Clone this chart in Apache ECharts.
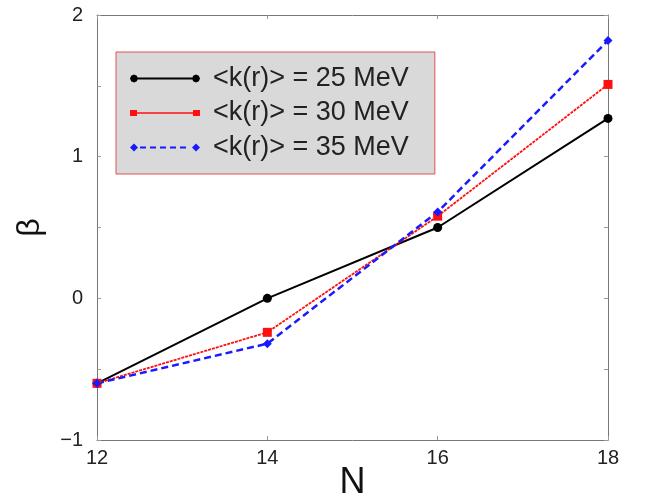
<!DOCTYPE html>
<html>
<head>
<meta charset="utf-8">
<script src="https://cdn.jsdelivr.net/npm/echarts@6/dist/echarts.min.js"></script>
<style>
html,body{margin:0;padding:0;background:#fff;}
#chart{width:645px;height:497px;}
</style>
</head>
<body>
<div id="chart"></div>
<script>
const nValues = [12, 14, 16, 18];
const seriesNames = ['<k(r)> = 25 MeV', '<k(r)> = 30 MeV', '<k(r)> = 35 MeV'];
const beta25 = [-0.60, 0.00, 0.50, 1.27];
const beta30 = [-0.60, -0.24, 0.58, 1.51];
const beta35 = [-0.60, -0.32, 0.61, 1.82];
const xTicks = [12, 14, 16, 18];
const yTicks = [-1, 0, 1, 2];

const pairs = v => nValues.map((n, i) => [n, v[i]]);
const FONT = '"Liberation Sans", Arial, Helvetica, sans-serif';

const iconBlack = 'path://M8,5L6.83,7.83L4,9L1.17,7.83L0,5L1.17,2.17L4,1L6.83,2.17Z M70,5L68.83,7.83L66,9L63.17,7.83L62,5L63.17,2.17L66,1L68.83,2.17Z M4,4L66,4L66,6L4,6Z';
const iconRed = 'path://M0,2h7v6h-7Z M63,2h7v6h-7Z M4,4.2L66,4.2L66,5.8L4,5.8Z';
const iconBlue = 'path://M0,5L4,1L8,5L4,9Z M62,5L66,1L70,5L66,9Z M10,4h6v2h-6Z M20,4h6v2h-6Z M30,4h6v2h-6Z M40,4h6v2h-6Z M50,4h6v2h-6Z';

const chart = echarts.init(document.getElementById('chart'));
const axisLine = {show: true, onZero: false, lineStyle: {color: '#777', width: 1}};
const tickStyle = {show: true, inside: true, length: 4, lineStyle: {color: '#999'}};
chart.setOption({
  animation: false,
  backgroundColor: '#fff',
  grid: {left: 97, right: 37, top: 15, bottom: 57, outerBoundsMode: 'none', containLabel: false},
  legend: {
    orient: 'vertical',
    left: 116, top: 52,
    backgroundColor: '#d9d9d9',
    borderColor: '#e05050',
    borderWidth: 1,
    borderRadius: 0,
    padding: [13, 26, 13, 14],
    itemWidth: 70, itemHeight: 10,
    itemGap: 7.5,
    itemStyle: {borderWidth: 0},
    lineStyle: {width: 0},
    textStyle: {fontFamily: FONT, fontSize: 27, color: '#222', lineHeight: 27, padding: [0, 0, 0, 8]},
    data: [
      {name: seriesNames[0], icon: iconBlack, itemStyle: {color: '#000', borderWidth: 0}},
      {name: seriesNames[1], icon: iconRed, itemStyle: {color: '#ff1010', borderWidth: 0}},
      {name: seriesNames[2], icon: iconBlue, itemStyle: {color: '#1a1aff', borderWidth: 0}}
    ]
  },
  xAxis: [{
    type: 'value', min: xTicks[0], max: xTicks[xTicks.length - 1], interval: 2,
    name: 'N', nameLocation: 'middle', nameGap: 25, nameMoveOverlap: false,
    nameTextStyle: {fontFamily: FONT, fontSize: 36, color: '#111', verticalAlign: 'top', lineHeight: 36},
    axisLine: axisLine, axisTick: tickStyle,
    axisLabel: {fontFamily: FONT, fontSize: 20, color: '#222', margin: 8},
    splitLine: {show: false}
  }, {
    type: 'value', position: 'top', min: xTicks[0], max: xTicks[xTicks.length - 1], interval: 2,
    axisLine: axisLine, axisTick: tickStyle, axisLabel: {show: false}, splitLine: {show: false}
  }],
  yAxis: [{
    type: 'value', min: yTicks[0], max: yTicks[yTicks.length - 1], interval: 1,
    name: 'β', nameLocation: 'middle', nameGap: 51, nameRotate: 90, nameMoveOverlap: false,
    nameTextStyle: {fontFamily: FONT, fontSize: 32, color: '#111'},
    axisLine: axisLine, axisTick: tickStyle,
    minorTick: {show: true, splitNumber: 2, length: 4, lineStyle: {color: '#999'}},
    axisLabel: {fontFamily: FONT, fontSize: 20, color: '#222', margin: 14,
      formatter: v => String(v).replace('-', '\u2212')},
    splitLine: {show: false}
  }, {
    type: 'value', position: 'right', min: yTicks[0], max: yTicks[yTicks.length - 1], interval: 1,
    axisLine: axisLine, axisTick: tickStyle,
    minorTick: {show: true, splitNumber: 2, length: 4, lineStyle: {color: '#999'}},
    axisLabel: {show: false}, splitLine: {show: false}
  }],
  series: [
    {name: seriesNames[0], type: 'line', data: pairs(beta25), symbol: 'circle', symbolSize: 9,
      lineStyle: {color: '#000', width: 2}, itemStyle: {color: '#000'}},
    {name: seriesNames[1], type: 'line', data: pairs(beta30), symbol: 'rect', symbolSize: 9,
      lineStyle: {color: '#ff1010', width: 1.8, type: [3, 1]}, itemStyle: {color: '#ff1010'}},
    {name: seriesNames[2], type: 'line', data: pairs(beta35), symbol: 'diamond', symbolSize: 9,
      lineStyle: {color: '#1a1aff', width: 2.5, type: [7, 4]}, itemStyle: {color: '#1a1aff'}}
  ]
});
</script>
</body>
</html>
